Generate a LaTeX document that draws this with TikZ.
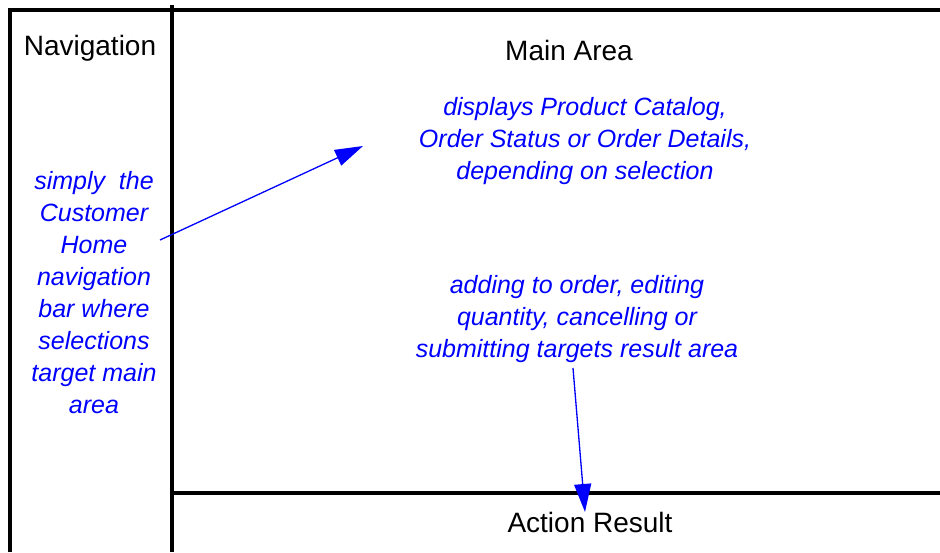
\documentclass[tikz,border=0pt]{standalone}
\usepackage{fontspec}
\setmainfont{Liberation Sans}
\usetikzlibrary{arrows.meta}
\tikzset{
  frame/.style={line width=4pt},
  title/.style={font=\fontsize{28}{30}\selectfont, anchor=base, inner sep=0pt},
  note/.style={text=blue, font=\fontsize{25}{32}\selectfont\itshape, align=center, anchor=base, inner sep=0pt},
  link/.style={blue, line width=1.3pt, -{Triangle[length=28pt,width=17pt]}}
}
\begin{document}
\begin{tikzpicture}[x=1pt,y=-1pt]
  \useasboundingbox (0,0) rectangle (940,552);
  % frames
  \draw[frame] (10,552) -- (10,10) -- (940,10);
  \draw[frame] (172,5) -- (172,552);
  \draw[frame] (172,493) -- (940,493);
  % titles
  \node[title] (nav) at (90,55) {Navigation};
  \node[title] (main) at (569,60) {Main Area};
  \node[title] (result) at (590,532) {Action Result};
  % notes (base = last line)
  \node[note] (navnote) at (94,413) {simply~ the\\Customer\\Home\\navigation\\bar where\\selections\\target main\\area};
  \node[note] (mainnote) at (585,179) {displays Product Catalog,\\Order Status or Order Details,\\depending on selection};
  \node[note] (actnote) at (577,357) {adding to order, editing\\quantity, cancelling or\\submitting targets result area};
  % arrows
  \coordinate (navout) at (160,240);
  \coordinate (mainin) at (363,146);
  \coordinate (actout) at (573,368);
  \coordinate (resin) at (585,512);
  \draw[link] (navout) -- (mainin);
  \draw[link] (actout) -- (resin);
\end{tikzpicture}
\end{document}
